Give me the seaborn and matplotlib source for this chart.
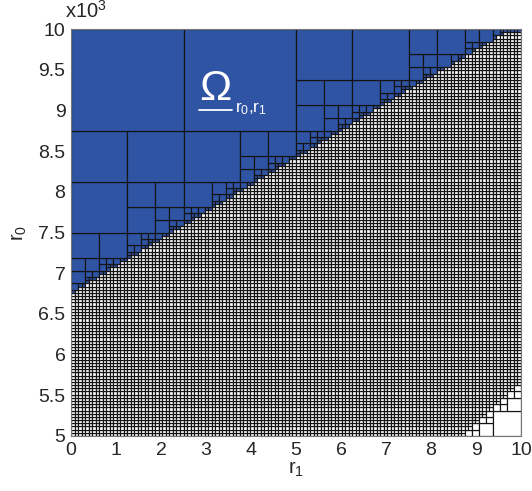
import numpy as np
import matplotlib
matplotlib.use("Agg")
import matplotlib.pyplot as plt
import seaborn as sns
from matplotlib.patches import Rectangle
from matplotlib.collections import PatchCollection

# ── data (units of 10^3) ─────────────────────────────────────
r1_range = [0.0, 10.0]
r0_range = [5.0, 10.0]
# lower edge of the blue region Omega_{r0,r1}
blue_edge_r1 = [0.0, 5.0, 9.7]
blue_edge_r0 = [6.725, 8.39, 9.95]
# bottom-right corner where the mesh stays coarse
corner_edge_r1 = [8.6, 10.0]
corner_edge_r0 = [5.0, 5.77]
max_level = 7

x_ticks = [0, 1, 2, 3, 4, 5, 6, 7, 8, 9, 10]
y_ticks = [5, 5.5, 6, 6.5, 7, 7.5, 8, 8.5, 9, 9.5, 10]
y_tick_labels = ['5', '5.5', '6', '6.5', '7', '7.5', '8', '8.5', '9', '9.5', '10']

BLUE = '#2f54a3'

sns.set_style("white")
plt.rcParams['font.family'] = ['Liberation Sans', 'DejaVu Sans']
plt.rcParams['mathtext.fontset'] = 'custom'
plt.rcParams['mathtext.rm'] = 'Liberation Sans'
plt.rcParams['mathtext.it'] = 'Liberation Sans'
plt.rcParams['mathtext.default'] = 'regular'


def blue_edge(x):
    return np.interp(x, blue_edge_r1, blue_edge_r0)


def corner_edge(x):
    return np.interp(x, corner_edge_r1, corner_edge_r0, left=-np.inf)


# ── quadtree of the (r1, r0) box ─────────────────────────────
cells = []


def split(x0, x1, y0, y1, level):
    if level > 0 and y0 >= blue_edge(x1):
        cells.append((x0, y0, x1 - x0, y1 - y0, BLUE))
        return
    if level > 0 and y1 <= corner_edge(x0):
        cells.append((x0, y0, x1 - x0, y1 - y0, 'white'))
        return
    if level == max_level:
        cells.append((x0, y0, x1 - x0, y1 - y0, 'white'))
        return
    xm, ym = (x0 + x1) / 2, (y0 + y1) / 2
    for a, b in [(x0, xm), (xm, x1)]:
        for c, d in [(y0, ym), (ym, y1)]:
            split(a, b, c, d, level + 1)


split(r1_range[0], r1_range[1], r0_range[0], r0_range[1], 0)

fig = plt.figure(figsize=(5.32, 4.91), dpi=100)
ax = fig.add_axes([71 / 532, 1 - 436 / 491, 450 / 532, 407 / 491])

rects = [Rectangle((x, y), w, h) for x, y, w, h, _ in cells]
pc = PatchCollection(rects, facecolors=[c for *_, c in cells],
                     edgecolors='#141414', linewidths=0.85)
ax.add_collection(pc)

ax.set_xlim(r1_range)
ax.set_ylim(r0_range)
ax.set_xticks(x_ticks)
ax.set_yticks(y_ticks)
ax.set_yticklabels(y_tick_labels)
ax.tick_params(axis='both', length=0, pad=4, labelsize=14)
for s in ax.spines.values():
    s.set_color('#777777')
    s.set_linewidth(0.8)

ax.set_xlabel('r$_1$', fontsize=14.5, labelpad=1)
ax.set_ylabel('r$_0$', fontsize=14.5, labelpad=7)
ax.text(-0.014, 1.018, r'x10$^3$', transform=ax.transAxes, fontsize=14.5,
        ha='left', va='bottom')

# region label: underlined Omega with subscript
ax.text(0.321, 0.852, '\u03a9', color='white', fontsize=31,
        ha='center', va='center', transform=ax.transAxes)
ax.plot([0.285, 0.357], [0.802, 0.802], color='white', lw=1.3,
        transform=ax.transAxes)
ax.text(0.364, 0.796, 'r$_0$,r$_1$', color='white', fontsize=12.5,
        ha='left', va='baseline', transform=ax.transAxes)

fig.savefig('out.png', dpi=100)
